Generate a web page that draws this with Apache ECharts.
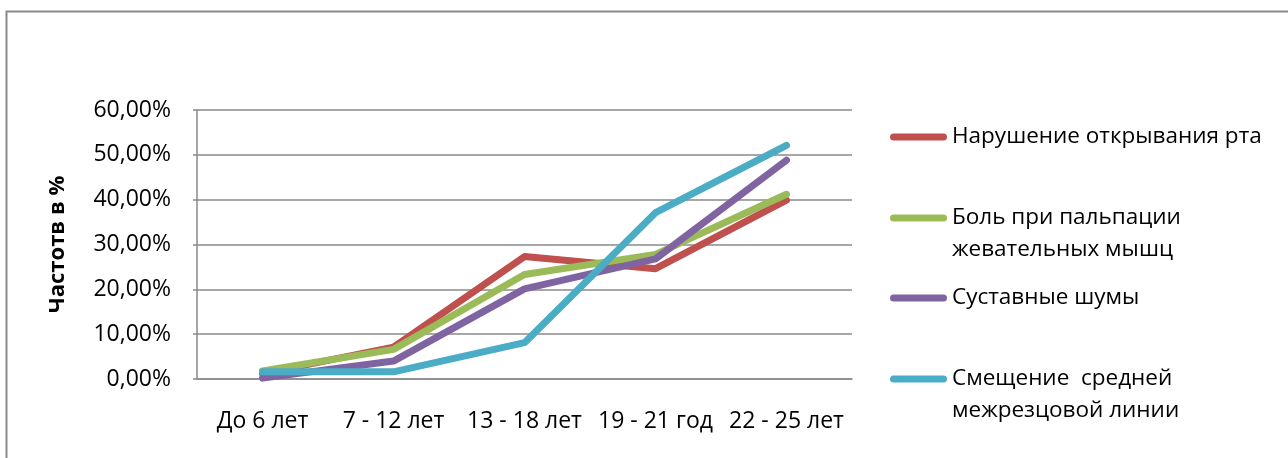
<!DOCTYPE html>
<html>
<head>
<meta charset="utf-8">
<script src="https://cdn.jsdelivr.net/npm/echarts@6/dist/echarts.min.js"></script>
<style>
  html, body { margin: 0; padding: 0; background: #ffffff; }
  #chart { width: 1288px; height: 458px; }
</style>
</head>
<body>
<div id="chart"></div>
<script>
// Age groups along the horizontal axis
const categories = ['До 6 лет', '7 - 12 лет', '13 - 18 лет', '19 - 21 год', '22 - 25 лет'];

// Frequency of each symptom, in percent
const mouthOpening = [1.2, 7.1, 27.3, 24.6, 39.9];
const musclePain   = [1.8, 6.6, 23.3, 27.8, 41.2];
const jointNoise   = [0.2, 4.0, 20.1, 26.8, 48.8];
const midlineShift = [1.6, 1.6, 8.1, 37.1, 52.1];

const seriesNames = [
  'Нарушение открывания рта',
  'Боль при пальпации\nжевательных мышц',
  'Суставные шумы',
  'Смещение  средней\nмежрезцовой линии'
];

// Y axis scale
const yMin = 0, yMax = 60, yStep = 10;

const colors = ['#C0504D', '#9BBB59', '#8064A2', '#4BACC6'];
const FONT = 'Open Sans';
const pill = 'path://M3.5,0H53.5A3.5,3.5,0,0,1,53.5,7H3.5A3.5,3.5,0,0,1,3.5,0Z';

function fmtPct(v) {
  return v.toFixed(2).replace('.', ',') + '%';
}

const chart = echarts.init(document.getElementById('chart'), null, { renderer: 'canvas' });

// One legend block per series so wrapped names keep the marker on their first line
const legendTops = [121, 170, 282, 331];
const legends = seriesNames.map((name, i) => ({
  data: [name],
  left: 890,
  top: legendTops[i],
  padding: 0,
  orient: 'vertical',
  icon: pill,
  itemWidth: 57,
  itemHeight: 7,
  selectedMode: false,
  formatter: n => (n.indexOf('\n') >= 0 ? '\n' + n : n),
  textStyle: { fontFamily: FONT, fontSize: 22.5, color: '#000', lineHeight: 32 }
}));

const lineSeries = [mouthOpening, musclePain, jointNoise, midlineShift].map((d, i) => ({
  name: seriesNames[i],
  type: 'line',
  data: d,
  showSymbol: false,
  symbol: 'none',
  lineStyle: { width: 7, color: colors[i], cap: 'round', join: 'round' },
  itemStyle: { color: colors[i] },
  animation: false
}));

chart.setOption({
  backgroundColor: '#ffffff',
  animation: false,
  color: colors,
  graphic: [{
    type: 'rect',
    shape: { x: 6.5, y: 11.5, width: 1400, height: 600 },
    style: { fill: 'none', stroke: '#8a8a8a', lineWidth: 2 },
    silent: true
  }],
  legend: legends,
  grid: { left: 197, right: 436, top: 110, bottom: 79, containLabel: false },
  xAxis: {
    type: 'category',
    data: categories,
    boundaryGap: true,
    axisLine: { show: true, lineStyle: { color: '#8a8a8a', width: 1.5 } },
    axisTick: { show: false },
    axisLabel: { fontFamily: FONT, fontSize: 23, color: '#000', margin: 31, interval: 0 }
  },
  yAxis: {
    type: 'value',
    min: yMin,
    max: yMax,
    interval: yStep,
    name: 'Частотв в %',
    nameLocation: 'middle',
    nameRotate: 90,
    nameGap: 128,
    nameTextStyle: { fontFamily: FONT, fontSize: 22, fontWeight: 'bold', color: '#000' },
    axisLine: { show: true, lineStyle: { color: '#8a8a8a', width: 1.5 } },
    axisTick: { show: true, inside: false, length: 4, lineStyle: { color: '#8a8a8a', width: 1.5 } },
    splitLine: { show: true, lineStyle: { color: '#8a8a8a', width: 1.5 } },
    axisLabel: { fontFamily: FONT, fontSize: 23, color: '#000', margin: 26, formatter: fmtPct }
  },
  series: lineSeries
});
</script>
</body>
</html>
